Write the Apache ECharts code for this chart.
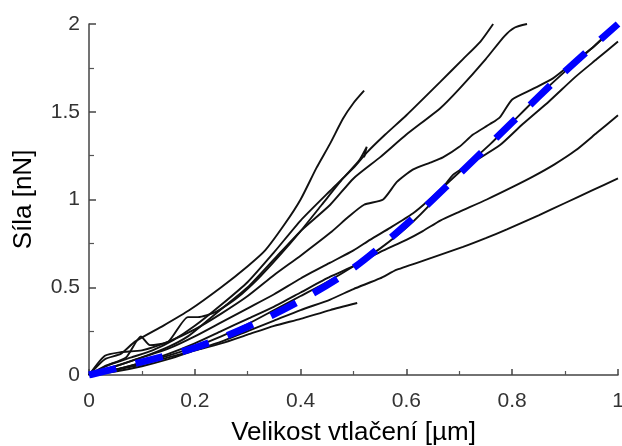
<!DOCTYPE html>
<html>
<head>
<meta charset="utf-8">
<script src="https://cdn.jsdelivr.net/npm/echarts@6/dist/echarts.min.js"></script>
<style>
  html, body { margin: 0; padding: 0; background: #fff; }
  #chart { width: 622px; height: 446px; }
</style>
</head>
<body>
<div id="chart"></div>
<script>
// Indentation curves: force [nN] against indentation depth [µm]
const curveA = [[0,0],[0.03,0.09],[0.06,0.12],[0.087,0.19],[0.14,0.28],[0.19,0.37],[0.25,0.5],[0.3,0.62],[0.333,0.71],[0.37,0.86],[0.4,1.0],[0.43,1.18],[0.456,1.32],[0.48,1.46],[0.5,1.55],[0.52,1.62]];
const curveB = [[0,0],[0.04,0.06],[0.08,0.1],[0.12,0.14],[0.16,0.2],[0.2,0.28],[0.25,0.4],[0.3,0.53],[0.35,0.7],[0.4,0.88],[0.456,1.05],[0.5,1.18],[0.526,1.27],[0.56,1.37],[0.6,1.48],[0.664,1.67],[0.707,1.8],[0.74,1.9],[0.764,2.0]];
const curveC = [[0,0],[0.05,0.05],[0.1,0.1],[0.15,0.16],[0.187,0.22],[0.22,0.3],[0.26,0.4],[0.3,0.5],[0.35,0.66],[0.4,0.82],[0.456,0.97],[0.5,1.12],[0.55,1.24],[0.6,1.37],[0.664,1.52],[0.7,1.63],[0.75,1.8],[0.785,1.93],[0.805,1.98],[0.828,2.0]];
const curveJ = [[0,0],[0.03,0.05],[0.07,0.1],[0.098,0.22],[0.115,0.17],[0.15,0.19],[0.187,0.33],[0.206,0.33],[0.24,0.36],[0.28,0.44],[0.32,0.55],[0.36,0.68],[0.4,0.82],[0.44,0.97],[0.48,1.12],[0.51,1.22],[0.525,1.3],[0.52,1.24]];
const curveG = [[0,0],[0.03,0.11],[0.06,0.13],[0.1,0.14],[0.15,0.19],[0.2,0.26],[0.25,0.35],[0.3,0.45],[0.35,0.57],[0.4,0.68],[0.456,0.81],[0.49,0.9],[0.52,0.97],[0.556,1.0],[0.582,1.1],[0.612,1.17],[0.645,1.21],[0.669,1.24],[0.7,1.3],[0.726,1.37],[0.758,1.43],[0.777,1.47],[0.8,1.57],[0.839,1.63],[0.877,1.69],[0.915,1.78],[0.95,1.86],[0.99,1.97]];
const curveH = [[0,0],[0.05,0.05],[0.1,0.1],[0.15,0.15],[0.2,0.22],[0.25,0.3],[0.3,0.38],[0.35,0.46],[0.4,0.55],[0.456,0.64],[0.5,0.71],[0.531,0.77],[0.57,0.84],[0.612,0.92],[0.64,0.99],[0.68,1.1],[0.72,1.21],[0.76,1.32],[0.8,1.44],[0.85,1.59],[0.9,1.73],[0.95,1.86],[0.985,1.96]];
const curveD = [[0,0],[0.05,0.03],[0.1,0.07],[0.15,0.11],[0.2,0.16],[0.25,0.22],[0.3,0.29],[0.35,0.37],[0.4,0.45],[0.45,0.53],[0.5,0.62],[0.55,0.72],[0.6,0.84],[0.65,0.99],[0.688,1.14],[0.73,1.22],[0.777,1.31],[0.82,1.43],[0.87,1.56],[0.92,1.7],[0.96,1.8],[1.0,1.9]];
const curveE = [[0,0],[0.05,0.03],[0.1,0.07],[0.15,0.12],[0.2,0.18],[0.25,0.25],[0.3,0.32],[0.35,0.39],[0.4,0.47],[0.456,0.56],[0.5,0.62],[0.55,0.7],[0.6,0.77],[0.631,0.82],[0.664,0.88],[0.7,0.93],[0.752,1.0],[0.8,1.07],[0.839,1.13],[0.88,1.2],[0.92,1.28],[0.96,1.38],[1.0,1.48]];
const curveF = [[0,0],[0.05,0.02],[0.1,0.05],[0.15,0.09],[0.2,0.14],[0.25,0.19],[0.3,0.25],[0.35,0.31],[0.4,0.37],[0.456,0.43],[0.5,0.49],[0.55,0.55],[0.582,0.6],[0.65,0.67],[0.707,0.73],[0.75,0.78],[0.79,0.83],[0.85,0.91],[0.9,0.98],[0.95,1.05],[1.0,1.12]];
const curveI = [[0,0],[0.05,0.03],[0.1,0.06],[0.15,0.1],[0.2,0.14],[0.25,0.18],[0.3,0.23],[0.35,0.28],[0.4,0.32],[0.456,0.37],[0.507,0.41]];

// Fitted model curve (blue dashed)
const fitCurve = [[0,0],[0.1,0.075],[0.2,0.155],[0.3,0.275],[0.4,0.425],[0.5,0.61],[0.6,0.86],[0.7,1.145],[0.8,1.44],[0.9,1.73],[1.0,2.0]];

const measured = [curveA, curveB, curveC, curveJ, curveG, curveH, curveD, curveE, curveF, curveI];

const FONT = '"Liberation Sans", Arial, sans-serif';

const series = measured.map(function (pts) {
  return {
    type: 'line',
    data: pts,
    showSymbol: false,
    smooth: 0.2,
    silent: true,
    lineStyle: { color: '#111', width: 1.9 },
    z: 2
  };
});
series.push({
  type: 'line',
  data: fitCurve,
  showSymbol: false,
  smooth: 0.3,
  silent: true,
  lineStyle: { color: '#0000ff', width: 7, type: [28, 20], cap: 'butt' },
  z: 5
});

const chart = echarts.init(document.getElementById('chart'), null, { renderer: 'canvas' });
chart.setOption({
  backgroundColor: '#ffffff',
  animation: false,
  grid: { left: 89, right: 4, top: 24, bottom: 71, containLabel: false, outerBoundsMode: 'none' },
  xAxis: {
    type: 'value',
    min: 0, max: 1, interval: 0.2,
    name: 'Velikost vtlačení [µm]',
    nameLocation: 'middle',
    nameGap: 45,
    nameTextStyle: { fontFamily: FONT, fontSize: 26, color: '#000' },
    axisLine: { show: true, lineStyle: { color: '#444', width: 1.5 } },
    axisTick: { show: true, inside: true, length: 6, lineStyle: { color: '#444', width: 1.5 } },
    minorTick: { show: true, splitNumber: 2, length: 4, lineStyle: { color: '#555', width: 1.2 } },
    axisLabel: { fontFamily: FONT, fontSize: 21, color: '#333', margin: 16 },
    splitLine: { show: false }
  },
  yAxis: {
    type: 'value',
    min: 0, max: 2, interval: 0.5,
    name: 'Síla [nN]',
    nameLocation: 'middle',
    nameGap: 52,
    nameTextStyle: { fontFamily: FONT, fontSize: 26, color: '#000' },
    axisLine: { show: true, lineStyle: { color: '#444', width: 1.5 } },
    axisTick: { show: true, inside: true, length: 7, lineStyle: { color: '#444', width: 1.5 } },
    minorTick: { show: true, splitNumber: 2, length: 5, lineStyle: { color: '#555', width: 1.2 } },
    axisLabel: { fontFamily: FONT, fontSize: 21, color: '#333', margin: 9 },
    splitLine: { show: false }
  },
  series: series
});
</script>
</body>
</html>
